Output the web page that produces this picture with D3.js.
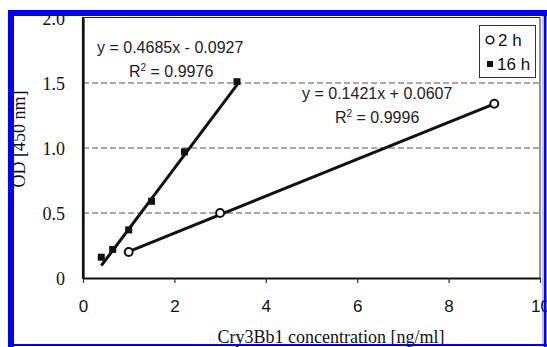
<!DOCTYPE html>
<html><head><meta charset="utf-8">
<script src="https://cdn.jsdelivr.net/npm/d3@7"></script>
<style>body{margin:0;background:#fff}svg{display:block}</style>
</head><body>
<script>
// Data
const xTicks = [0, 2, 4, 6, 8, 10];
const yTicks = [0, 0.5, 1.0, 1.5, 2.0];
const yTickLabels = ["0", "0.5", "1.0", "1.5", "2.0"];
const gridValues = [0.5, 1.0, 1.5];
const conc2h = [1, 3, 9];
const od2h = [0.20, 0.50, 1.34];
const conc16h = [0.4, 0.65, 1.0, 1.5, 2.22, 3.37];
const od16h = [0.16, 0.22, 0.37, 0.59, 0.97, 1.51];
const seriesNames = ["2 h", "16 h"];
const fitSlope = [0.1421, 0.4685];
const fitIntercept = [0.0607, -0.0927];
const eqLabels = ["y = 0.1421x + 0.0607", "y = 0.4685x - 0.0927"];
const r2Labels = ["0.9996", "0.9976"];
const xTitle = "Cry3Bb1 concentration [ng/ml]";
const yTitle = "OD [450 nm]";

const W = 547, H = 347;
const svg = d3.select("body").append("svg").attr("width", W).attr("height", H);
const x = d3.scaleLinear().domain([0, 10]).range([83, 540]);
const y = d3.scaleLinear().domain([0, 2]).range([278, 18]);
const sans = "'Liberation Sans', Arial, sans-serif";
const serif = "'Liberation Serif', 'Times New Roman', serif";

// plot border (top/right thin)
svg.append("path").attr("d", `M${x(0)},${y(2)-0.5}H${x(10)}V${y(0)}`)
  .attr("fill", "none").attr("stroke", "#222").attr("stroke-width", 1);
svg.append("line").attr("x1", 543).attr("x2", 543).attr("y1", 14).attr("y2", 347)
  .attr("stroke", "#888").attr("stroke-width", 1);

// gridlines
svg.selectAll(".grid").data(gridValues).enter().append("line")
  .attr("x1", x(0)).attr("x2", x(10)).attr("y1", d => y(d)).attr("y2", d => y(d))
  .attr("stroke", "#555").attr("stroke-width", 1).attr("stroke-dasharray", "6,3");

// x axis
const gx = svg.append("g").attr("transform", `translate(0,${y(0)})`)
  .call(d3.axisBottom(x).tickValues(xTicks).tickFormat(d3.format("d")).tickSize(5).tickSizeOuter(0));
gx.select(".domain").attr("stroke", "#111").attr("stroke-width", 2.2);
gx.selectAll(".tick line").attr("stroke", "#333").attr("stroke-width", 1.2);
gx.selectAll(".tick text").attr("y", 34).attr("dy", null)
  .attr("font-family", sans).attr("font-size", 17).attr("fill", "#111");

// y axis
const gy = svg.append("g").attr("transform", `translate(${x(0)},0)`)
  .call(d3.axisLeft(y).tickValues(yTicks).tickFormat((d, i) => yTickLabels[i]).tickSize(0).tickSizeOuter(0).tickPadding(18));
gy.select(".domain").attr("stroke", "#111").attr("stroke-width", 2.2);
gy.selectAll(".tick text").attr("dy", "0.34em")
  .attr("font-family", serif).attr("font-size", 18).attr("fill", "#111");
// close y axis domain to x axis corner
svg.append("line").attr("x1", x(0)).attr("x2", x(0)).attr("y1", y(2)-1).attr("y2", y(0)+1)
  .attr("stroke", "#111").attr("stroke-width", 2.2);

// fit lines
const fits = [
  {xs: conc2h, k: 0},
  {xs: conc16h, k: 1}
];
fits.forEach(f => {
  const x0 = d3.min(f.xs), x1 = d3.max(f.xs);
  svg.append("line")
    .attr("x1", x(x0)).attr("y1", y(fitSlope[f.k]*x0 + fitIntercept[f.k]))
    .attr("x2", x(x1)).attr("y2", y(fitSlope[f.k]*x1 + fitIntercept[f.k]))
    .attr("stroke", "#111").attr("stroke-width", 3);
});

// 16 h squares
svg.selectAll(".sq").data(conc16h).enter().append("rect")
  .attr("x", d => x(d) - 3.5).attr("y", (d, i) => y(od16h[i]) - 3.5)
  .attr("width", 7).attr("height", 7).attr("fill", "#111");
// 2 h circles
svg.selectAll(".ci").data(conc2h).enter().append("circle")
  .attr("cx", d => x(d)).attr("cy", (d, i) => y(od2h[i])).attr("r", 4)
  .attr("fill", "#fff").attr("stroke", "#111").attr("stroke-width", 2);

// equations
function eq(xp, yp, txt, r2, xr) {
  svg.append("text").attr("x", xp).attr("y", yp).attr("font-family", sans)
    .attr("font-size", 16).attr("fill", "#222").text(txt);
  const t = svg.append("text").attr("x", xr).attr("y", yp + 24).attr("font-family", sans)
    .attr("font-size", 16).attr("fill", "#222");
  t.append("tspan").text("R");
  t.append("tspan").attr("dy", -6).attr("font-size", 10).text("2");
  t.append("tspan").attr("dy", 6).text(" = " + r2);
}
eq(97, 53, eqLabels[1], r2Labels[1], 129);
eq(302, 99, eqLabels[0], r2Labels[0], 335);

// legend
svg.append("rect").attr("x", 479.5).attr("y", 25.5).attr("width", 56).attr("height", 52)
  .attr("fill", "#fff").attr("stroke", "#333").attr("stroke-width", 1);
svg.append("circle").attr("cx", 490).attr("cy", 40).attr("r", 3.8)
  .attr("fill", "#fff").attr("stroke", "#111").attr("stroke-width", 1.5);
svg.append("rect").attr("x", 487).attr("y", 61).attr("width", 6).attr("height", 6).attr("fill", "#111");
svg.append("text").attr("x", 498).attr("y", 46).attr("font-family", sans).attr("font-size", 17)
  .attr("fill", "#111").text(seriesNames[0]);
svg.append("text").attr("x", 497).attr("y", 70).attr("font-family", sans).attr("font-size", 17)
  .attr("fill", "#111").text(seriesNames[1]);

// axis titles
svg.append("text").attr("x", 331).attr("y", 343).attr("text-anchor", "middle")
  .attr("font-family", serif).attr("font-size", 18).attr("fill", "#111").text(xTitle);
svg.append("text").attr("transform", "translate(25,139) rotate(-90)").attr("text-anchor", "middle")
  .attr("font-family", serif).attr("font-size", 18).attr("fill", "#111").text(yTitle);

// blue frame
const blue = "#0000ff";
svg.append("rect").attr("x", 8).attr("y", 10).attr("width", 6).attr("height", H - 10).attr("fill", blue);
svg.append("rect").attr("x", 8).attr("y", 10).attr("width", W - 8).attr("height", 6).attr("fill", blue);
svg.append("rect").attr("x", 544).attr("y", 10).attr("width", 2.5).attr("height", H - 10).attr("fill", blue);
svg.append("rect").attr("x", 8).attr("y", 344).attr("width", W - 8).attr("height", 2).attr("fill", blue);
</script>
</body></html>
